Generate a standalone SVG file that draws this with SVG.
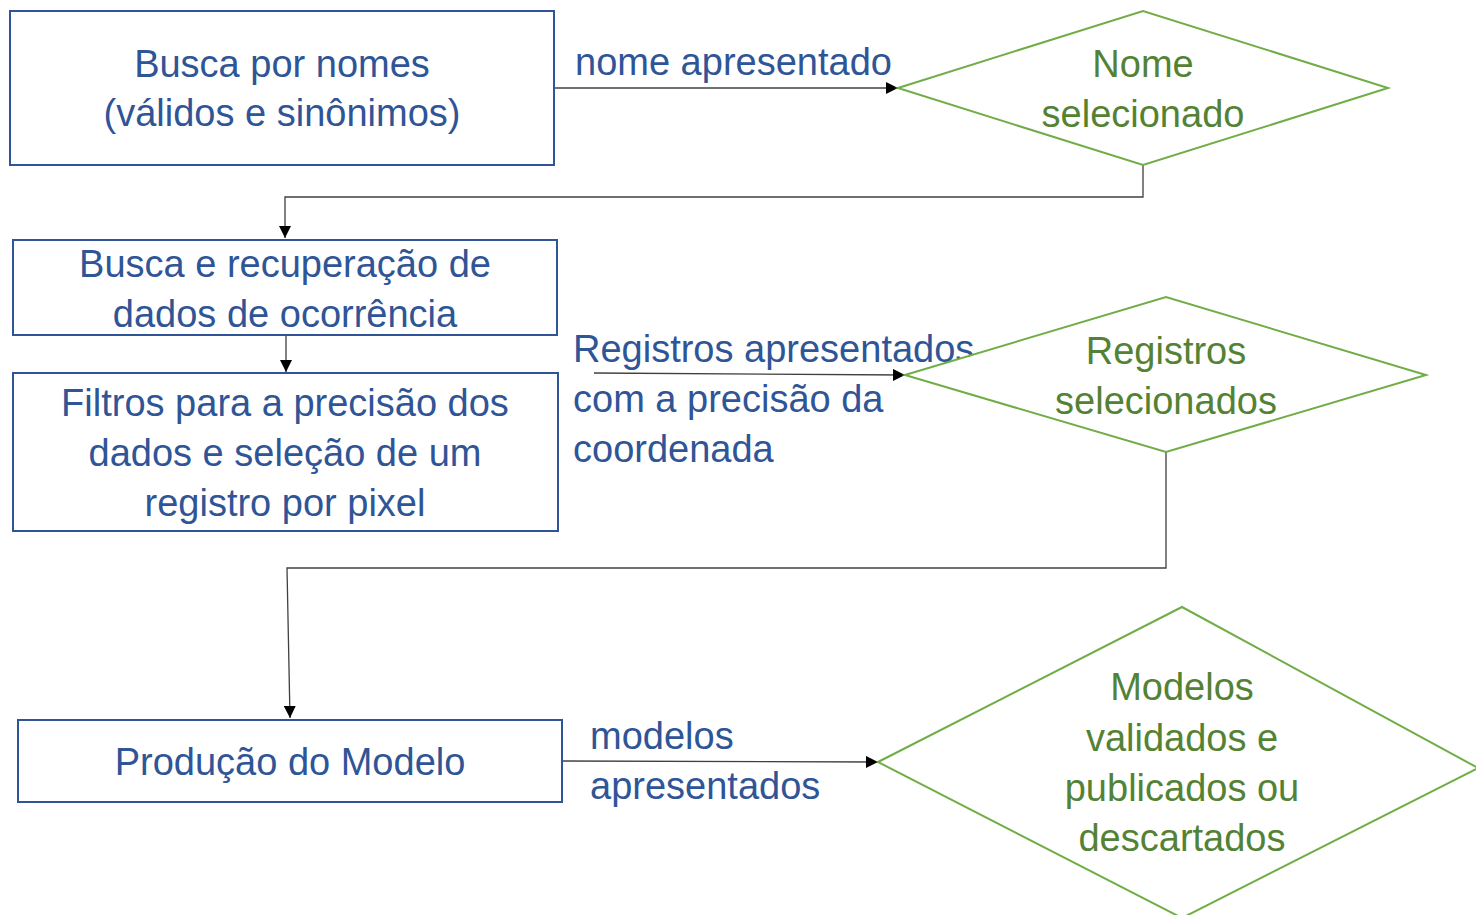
<svg xmlns="http://www.w3.org/2000/svg" width="1476" height="915" viewBox="0 0 1476 915">
<defs>
<marker id="arr" markerUnits="userSpaceOnUse" markerWidth="13" markerHeight="12" refX="12" refY="6" orient="auto">
<path d="M0,0 L12,6 L0,12 z" fill="#000"/>
</marker>
<style>
.box{fill:#fff;stroke:#2F5597;stroke-width:2}
.dia{fill:#fff;stroke:#70AD47;stroke-width:2}
.bt{font-family:"Liberation Sans",Arial,sans-serif;font-size:38px;fill:#2F5597;text-anchor:middle}
.gt{font-family:"Liberation Sans",Arial,sans-serif;font-size:38px;fill:#548235;text-anchor:middle}
.lt{font-family:"Liberation Sans",Arial,sans-serif;font-size:38px;fill:#2F5597}
.con{fill:none;stroke:#404040;stroke-width:1.3}
</style>
</defs>
<rect width="1476" height="915" fill="#fff"/>
<g id="connectors">
<path class="con" d="M554,88 L898,88" marker-end="url(#arr)"/>
<path class="con" d="M1143,165 L1143,197 L285,197 L285,238" marker-end="url(#arr)"/>
<path class="con" d="M286,335 L286,372" marker-end="url(#arr)"/>
<path class="con" d="M594,373 L905,375" marker-end="url(#arr)"/>
<path class="con" d="M1166,452 L1166,568 L287,568 L290,718" marker-end="url(#arr)"/>
<path class="con" d="M562,761 L878,762" marker-end="url(#arr)"/>
<text class="lt" x="575" y="75">nome apresentado</text>
<text class="lt" x="573" y="362">Registros apresentados</text>
<text class="lt" x="573" y="412">com a precisão da</text>
<text class="lt" x="573" y="462">coordenada</text>
<text class="lt" x="590" y="749">modelos</text>
<text class="lt" x="590" y="799">apresentados</text>
</g>
<g id="n1">
<rect class="box" x="10" y="11" width="544" height="154"/>
<text class="bt" x="282" y="77">Busca por nomes</text>
<text class="bt" x="282" y="126">(válidos e sinônimos)</text>
</g>
<g id="d1">
<polygon class="dia" points="898,88 1143,11 1388,88 1143,165"/>
<text class="gt" x="1143" y="77">Nome</text>
<text class="gt" x="1143" y="127">selecionado</text>
</g>
<g id="n2">
<rect class="box" x="13" y="240" width="544" height="95"/>
<text class="bt" x="285" y="277">Busca e recuperação de</text>
<text class="bt" x="285" y="327">dados de ocorrência</text>
</g>
<g id="n3">
<rect class="box" x="13" y="373" width="545" height="158"/>
<text class="bt" x="285" y="416">Filtros para a precisão dos</text>
<text class="bt" x="285" y="466">dados e seleção de um</text>
<text class="bt" x="285" y="516">registro por pixel</text>
</g>
<g id="d2">
<polygon class="dia" points="905,375 1166,297 1426,375 1166,452"/>
<text class="gt" x="1166" y="364">Registros</text>
<text class="gt" x="1166" y="414">selecionados</text>
</g>
<g id="n4">
<rect class="box" x="18" y="720" width="544" height="82"/>
<text class="bt" x="290" y="775">Produção do Modelo</text>
</g>
<g id="d3">
<polygon class="dia" points="878,762 1182,607 1478,768 1182,918"/>
<text class="gt" x="1182" y="700">Modelos</text>
<text class="gt" x="1182" y="751">validados e</text>
<text class="gt" x="1182" y="801">publicados ou</text>
<text class="gt" x="1182" y="851">descartados</text>
</g>
</svg>
